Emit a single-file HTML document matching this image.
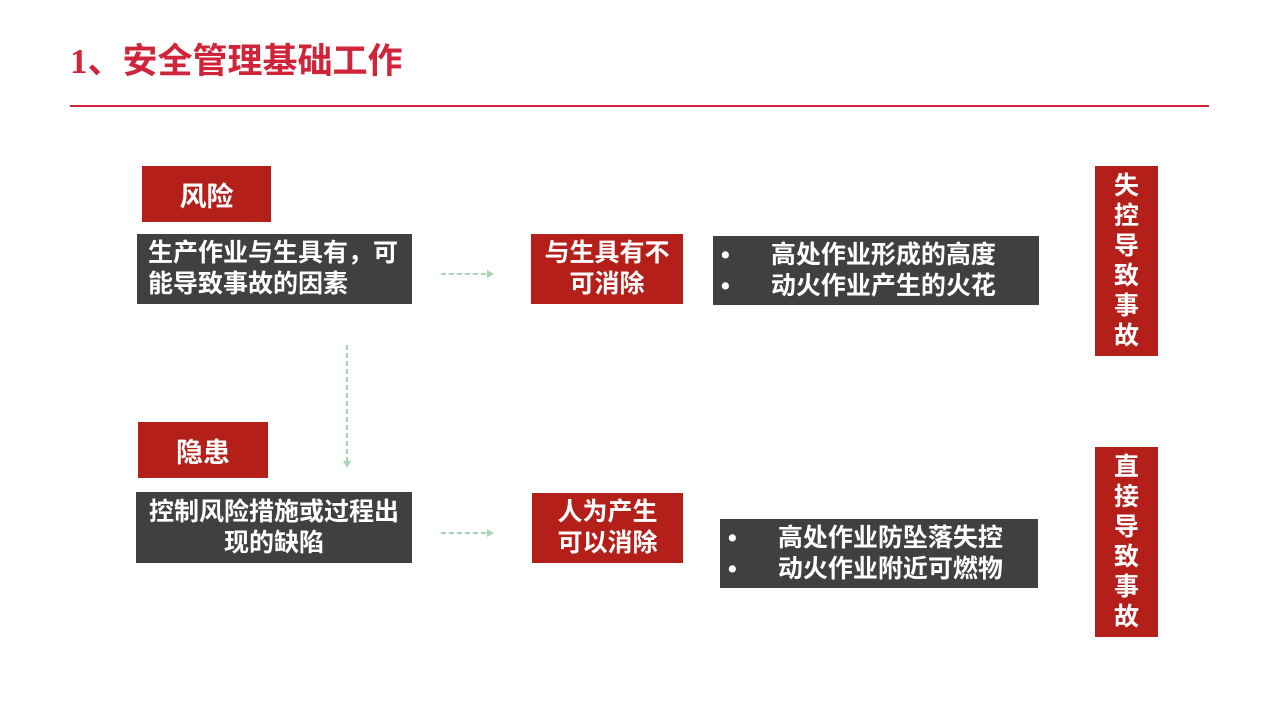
<!DOCTYPE html><html><head><meta charset="utf-8"><style>
body{margin:0;width:1280px;height:720px;background:#fff;position:relative;overflow:hidden;font-family:"Liberation Sans","Noto Sans CJK SC",sans-serif;font-weight:bold}
.b{position:absolute;display:flex;align-items:center;justify-content:center;text-align:center;color:#fff;box-sizing:border-box}
.r{background:#b41f19}.d{background:#404040}
.t{position:absolute;left:70px;top:33px;color:#d0243b;font-size:35px;font-weight:bold}
.t b{font-family:"Liberation Serif",serif}
.l{position:absolute;left:70px;top:105px;width:1139px;height:2px;background:#d0243b}
.v{flex-direction:column;font-size:25px;line-height:30px}
ul{margin:0;padding:0;list-style:none;text-align:left;font-size:25px;line-height:31px}
ul li span{display:inline-block;width:44px;padding-left:8px;box-sizing:border-box}
</style></head><body>
<div class="t"><b>1</b>、安全管理基础工作</div><div class="l"></div>
<div class="b r" style="left:142px;top:166px;width:129px;height:56px;font-size:27px">风险</div>
<div class="b d" style="left:137px;top:234px;width:275px;height:70px;font-size:25px;line-height:31px;text-align:left;justify-content:flex-start;padding-left:11px;white-space:nowrap">生产作业与生具有，可<br>能导致事故的因素</div>
<div class="b r" style="left:531px;top:234px;width:152px;height:70px;font-size:25px;line-height:31px">与生具有不<br>可消除</div>
<div class="b d" style="left:713px;top:236px;width:326px;height:69px;justify-content:flex-start"><ul><li><span>•</span>&nbsp;&nbsp;高处作业形成的高度</li><li><span>•</span>&nbsp;&nbsp;动火作业产生的火花</li></ul></div>
<div class="b r v" style="left:1095px;top:166px;width:63px;height:190px">失<br>控<br>导<br>致<br>事<br>故</div>
<div class="b r" style="left:138px;top:422px;width:130px;height:56px;font-size:27px">隐患</div>
<div class="b d" style="left:136px;top:492px;width:276px;height:71px;font-size:25px;line-height:31px;white-space:nowrap">控制风险措施或过程出<br>现的缺陷</div>
<div class="b r" style="left:532px;top:493px;width:151px;height:70px;font-size:25px;line-height:31px">人为产生<br>可以消除</div>
<div class="b d" style="left:720px;top:519px;width:318px;height:69px;justify-content:flex-start"><ul><li><span>•</span>&nbsp;&nbsp;高处作业防坠落失控</li><li><span>•</span>&nbsp;&nbsp;动火作业附近可燃物</li></ul></div>
<div class="b r v" style="left:1095px;top:447px;width:63px;height:190px">直<br>接<br>导<br>致<br>事<br>故</div>
<svg style="position:absolute;left:0;top:0" width="1280" height="720">
<g stroke="#a9d3b6" stroke-width="2" stroke-dasharray="5,3" fill="none">
<line x1="441" y1="274" x2="488" y2="274"/><line x1="441" y1="533" x2="488" y2="533"/><line x1="347" y1="345" x2="347" y2="461"/></g>
<g fill="#a9d3b6"><path d="M494 274l-7-4v8z"/><path d="M494 533l-7-4v8z"/><path d="M347 468l-4-7h8z"/></g>
</svg>
</body></html>
